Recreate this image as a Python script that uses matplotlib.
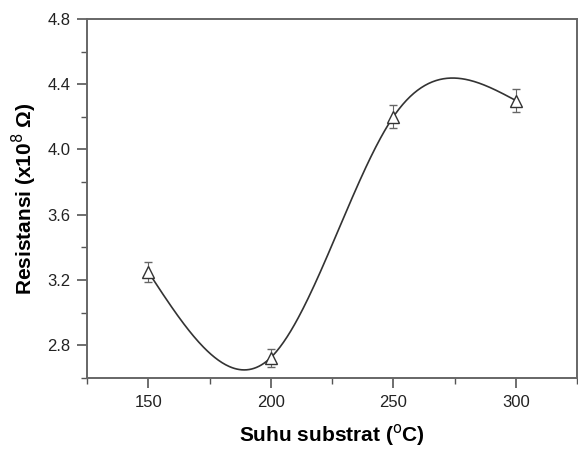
import numpy as np
import matplotlib
matplotlib.use("Agg")
import matplotlib.pyplot as plt
from matplotlib.ticker import MultipleLocator

plt.rcParams["font.family"] = ["Liberation Sans", "DejaVu Sans"]

suhu = np.array([150, 200, 250, 300])
resistansi = np.array([3.25, 2.725, 4.20, 4.30])
galat = np.array([0.06, 0.055, 0.07, 0.07])


def natural_spline(x, y, n=300):
    # spline kubik natural (seperti "Spline" di Origin)
    k = len(x)
    h = np.diff(x)
    A = np.zeros((k, k))
    b = np.zeros(k)
    A[0, 0] = A[-1, -1] = 1
    for i in range(1, k - 1):
        A[i, i - 1] = h[i - 1]
        A[i, i] = 2 * (h[i - 1] + h[i])
        A[i, i + 1] = h[i]
        b[i] = 6 * ((y[i + 1] - y[i]) / h[i] - (y[i] - y[i - 1]) / h[i - 1])
    M = np.linalg.solve(A, b)
    xs = np.linspace(x[0], x[-1], n)
    idx = np.clip(np.searchsorted(x, xs) - 1, 0, k - 2)
    x0, x1 = x[idx], x[idx + 1]
    hh = x1 - x0
    a = (x1 - xs) / hh
    c = (xs - x0) / hh
    ys = (a * y[idx] + c * y[idx + 1]
          + ((a ** 3 - a) * M[idx] + (c ** 3 - c) * M[idx + 1]) * hh ** 2 / 6)
    return xs, ys


fig = plt.figure(figsize=(5.78, 4.5), dpi=100)
ax = fig.add_axes([0.1505, 0.16, 0.848, 0.798])

xs, ys = natural_spline(suhu.astype(float), resistansi)
ax.plot(xs, ys, color="#333333", lw=1.2)
ax.errorbar(suhu, resistansi, yerr=galat, fmt="^", ms=9, mfc="white",
            mec="#333333", mew=1.0, ecolor="#666666", elinewidth=0.8,
            capsize=3, capthick=0.8, zorder=3)

ax.set_xlim(125, 325)
ax.set_ylim(2.6, 4.8)
ax.set_xticks([150, 200, 250, 300])
ax.set_yticks([2.8, 3.2, 3.6, 4.0, 4.4, 4.8])
ax.xaxis.set_minor_locator(MultipleLocator(25))
ax.yaxis.set_minor_locator(MultipleLocator(0.2))
ax.tick_params(which="major", direction="out", length=7, width=1.2,
               color="#555555", labelsize=12, labelcolor="#222222", pad=5)
ax.tick_params(which="minor", direction="out", length=4, width=1.0,
               color="#555555")
for s in ax.spines.values():
    s.set_color("#666666")
    s.set_linewidth(1.4)

ax.set_xlabel("Suhu substrat ($^{\\rm o}$C)", fontsize=15, fontweight="bold",
              labelpad=9)
ax.set_ylabel("Resistansi (x10$^{8}$ Ω)", fontsize=15, fontweight="bold",
              labelpad=6)

fig.savefig("out.png", dpi=100)
